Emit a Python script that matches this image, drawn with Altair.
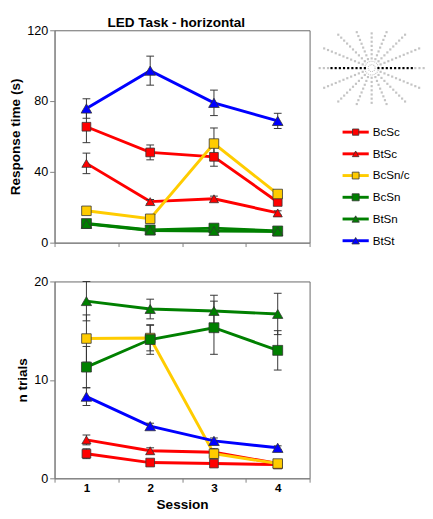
import math
import altair as alt
import numpy as np
import pandas as pd

# ---------------- data ----------------
sessions = ["1", "2", "3", "4"]
series = ["BcSc", "BtSc", "BcSn/c", "BcSn", "BtSn", "BtSt"]
colors = ["#FF0000", "#FF0000", "#FFCC00", "#008000", "#008000", "#0000FF"]
shapes = ["square", "triangle-up", "square", "square", "triangle-up", "triangle-up"]

# Response time (s): mean and error per session
rt_BcSc = [65.5, 51.0, 48.5, 23.0]
rt_BtSc = [44.8, 23.2, 24.8, 16.8]
rt_BcSnc = [18.0, 13.5, 56.0, 27.5]
rt_BcSn = [10.8, 7.2, 8.2, 6.6]
rt_BtSn = [10.6, 6.9, 6.6, 6.3]
rt_BtSt = [75.8, 97.2, 79.0, 68.8]
rt_err_BcSc = [9.0, 4.2, 5.3, 2.0]
rt_err_BtSc = [5.8, 1.2, 1.5, 1.2]
rt_err_BcSnc = [2.0, 1.5, 8.8, 2.0]
rt_err_BcSn = [1.5, 1.0, 1.5, 1.0]
rt_err_BtSn = [1.5, 1.0, 1.0, 1.0]
rt_err_BtSt = [5.5, 8.2, 7.2, 4.3]

# n trials: mean and error per session
nt_BcSc = [2.5, 1.6, 1.5, 1.4]
nt_BtSc = [3.9, 2.8, 2.65, 1.5]
nt_BcSnc = [14.2, 14.25, 2.5, 1.5]
nt_BcSn = [11.3, 14.1, 15.3, 13.0]
nt_BtSn = [18.0, 17.2, 17.0, 16.7]
nt_BtSt = [8.3, 5.3, 3.8, 3.1]
nt_err_BcSc = [0.5, 0.3, 0.3, 0.2]
nt_err_BtSc = [0.5, 0.3, 0.3, 0.2]
nt_err_BcSnc = [2.4, 1.3, 0.5, 0.3]
nt_err_BcSn = [2.1, 1.5, 2.7, 2.0]
nt_err_BtSn = [2.0, 1.0, 1.6, 2.1]
nt_err_BtSt = [0.9, 0.3, 0.3, 0.2]

rt_means = [rt_BcSc, rt_BtSc, rt_BcSnc, rt_BcSn, rt_BtSn, rt_BtSt]
rt_errs = [rt_err_BcSc, rt_err_BtSc, rt_err_BcSnc, rt_err_BcSn, rt_err_BtSn, rt_err_BtSt]
nt_means = [nt_BcSc, nt_BtSc, nt_BcSnc, nt_BcSn, nt_BtSn, nt_BtSt]
nt_errs = [nt_err_BcSc, nt_err_BtSc, nt_err_BcSnc, nt_err_BcSn, nt_err_BtSn, nt_err_BtSt]

# decorative LED layout icon: ray directions and their lengths (px)
ray_angles = [i * 22.5 for i in range(16)]
ray_fold = [0.0, 22.5, 45.0, 67.5, 90.0]
ray_length = [55, 54, 52, 40, 36]


def long_df(means, errs):
    rows = []
    for s, m, e in zip(series, means, errs):
        for sess, v, ev in zip(sessions, m, e):
            rows.append({"series": s, "session": sess, "mean": v,
                         "lo": v - ev, "hi": v + ev})
    return pd.DataFrame(rows)


rt_df = long_df(rt_means, rt_errs)
nt_df = long_df(nt_means, nt_errs)

FONT = "Liberation Sans"
ERR_COLOR = "#333333"

color_scale = alt.Scale(domain=series, range=colors)
shape_scale = alt.Scale(domain=series, range=shapes)
size_scale = alt.Scale(domain=series, range=[81, 120, 81, 81, 120, 120])


def panel(df, ymax, yticks, ytitle, w, h, widths, bottom):
    xaxis = alt.Axis(tickBand="extent", labels=bottom, title="Session" if bottom else None,
                     labelAngle=0, labelFontSize=12, labelFontWeight="bold",
                     titleFontSize=14, titleFontWeight="bold", titlePadding=4,
                     labelPadding=1, domainColor="#808080", tickColor="#808080", tickSize=4)
    x = alt.X("session:N", sort=sessions, bandPosition=0.5,
              scale=alt.Scale(type="band", paddingInner=0, paddingOuter=0), axis=xaxis)
    yscale = alt.Scale(domain=[0, ymax], nice=False, zero=True)
    yaxis = alt.Axis(values=yticks, title=ytitle, grid=False, labelFontSize=13,
                     titleFontSize=14, titleFontWeight="bold", titlePadding=4,
                     labelPadding=2, domainColor="#808080", tickColor="#808080", tickSize=5)
    y = alt.Y("mean:Q", scale=yscale, axis=yaxis)
    base = alt.Chart(df)
    lines = base.mark_line().encode(
        x=x, y=y,
        color=alt.Color("series:N", scale=color_scale, legend=None),
        strokeWidth=alt.StrokeWidth("series:N", scale=alt.Scale(domain=series, range=widths), legend=None),
        detail="series:N",
    )
    err = base.mark_rule(color=ERR_COLOR, strokeWidth=1).encode(
        x=x, y=alt.Y("lo:Q", scale=yscale, axis=yaxis), y2="hi:Q")
    cap_lo = base.mark_tick(color=ERR_COLOR, size=8, thickness=1, opacity=1).encode(
        x=x, y=alt.Y("lo:Q", scale=yscale, axis=yaxis))
    cap_hi = base.mark_tick(color=ERR_COLOR, size=8, thickness=1, opacity=1).encode(
        x=x, y=alt.Y("hi:Q", scale=yscale, axis=yaxis))
    pts = base.mark_point(filled=True, opacity=1, stroke=ERR_COLOR, strokeWidth=0.8).encode(
        x=x, y=y,
        color=alt.Color("series:N", scale=color_scale, legend=None),
        shape=alt.Shape("series:N", scale=shape_scale, legend=None),
        size=alt.Size("series:N", scale=size_scale, legend=None),
    )
    return alt.layer(lines, err, cap_lo, cap_hi, pts).properties(width=w, height=h)


top = panel(rt_df, 120, [0, 40, 80, 120], "Response time (s)", 263, 219,
            [3, 3, 2.5, 3, 3, 3], False).properties(
    title=alt.TitleParams("LED Task - horizontal", fontSize=14, fontWeight="bold",
                          font=FONT, anchor="middle", frame="group", dx=-6, offset=-6))
bottom = panel(nt_df, 20, [0, 10, 20], "n trials", 263, 203,
               [3, 3, 2.5, 3, 3, 1.5], True)

# ---------------- side: icon + legend ----------------
SIDE_W, SIDE_H = 110, 219
sun_cx, sun_cy = 60, 39


def length_for(a):
    f = a % 180
    f = min(f, 180 - f)
    return ray_length[ray_fold.index(f)]


dots = []
for a in ray_angles:
    L = length_for(a)
    horizontal = (a % 180 == 0)
    start = 45.0 if horizontal else 10.0
    for r in np.arange(start, L + 0.5, 4.3):
        dots.append({"dx": r * math.cos(math.radians(a)), "dy": -r * math.sin(math.radians(a)), "k": "g"})
    if horizontal:
        for r in np.arange(7.0, 43.0, 4.3):
            dots.append({"dx": r * math.cos(math.radians(a)), "dy": 0.0, "k": "b"})
dots_df = pd.DataFrame(dots)
rings_df = pd.DataFrame({"dx": [0.0, 0.0], "dy": [0.0, 0.0], "s": [50, 200]})

sx = alt.X("dx:Q", scale=alt.Scale(domain=[-sun_cx, SIDE_W - sun_cx], range=[0, SIDE_W]), axis=None)
sy = alt.Y("dy:Q", scale=alt.Scale(domain=[-sun_cy, SIDE_H - sun_cy], range=[0, SIDE_H]), axis=None)

gray_dots = alt.Chart(dots_df).transform_filter("datum.k == 'g'").mark_square(
    color="#c4c4c4", size=5, opacity=1).encode(x=sx, y=sy)
black_dots = alt.Chart(dots_df).transform_filter("datum.k == 'b'").mark_square(
    color="#000000", size=5, opacity=1).encode(x=sx, y=sy)
rings = alt.Chart(rings_df).mark_point(shape="circle", filled=False, color="#c4c4c4",
                                       strokeWidth=1.2, strokeDash=[1, 1], opacity=1).encode(
    x=sx, y=sy, size=alt.Size("s:Q", scale=None, legend=None))
sun = alt.layer(gray_dots, rings, black_dots)

leg_df = pd.DataFrame({"series": series})
ly = alt.Y("series:N", sort=series, axis=None,
           scale=alt.Scale(type="point", range=[105, 217], padding=0))
leg_line = alt.Chart(leg_df).mark_rule(strokeWidth=3).encode(
    y=ly, x=alt.value(30), x2=alt.value(57),
    color=alt.Color("series:N", scale=color_scale, legend=None))
leg_pt = alt.Chart(leg_df).mark_point(filled=True, opacity=1, stroke=ERR_COLOR, strokeWidth=0.8).encode(
    y=ly, x=alt.value(43.5),
    color=alt.Color("series:N", scale=color_scale, legend=None),
    shape=alt.Shape("series:N", scale=shape_scale, legend=None),
    size=alt.Size("series:N", scale=alt.Scale(domain=series, range=[42, 60, 42, 42, 60, 60]), legend=None))
leg_txt = alt.Chart(leg_df).mark_text(align="left", baseline="middle", fontSize=12,
                                      font=FONT, color="black").encode(
    y=ly, x=alt.value(61), text="series:N")
legend = alt.layer(leg_line, leg_pt, leg_txt)

side = alt.layer(sun, legend).resolve_scale(
    x="independent", y="independent", size="independent").properties(
    width=SIDE_W, height=SIDE_H, view=alt.ViewConfig(stroke=None))

top_row = alt.hconcat(top, side, spacing=3).resolve_scale(size="independent", strokeWidth="independent")
chart = alt.vconcat(top_row, bottom, spacing=25).resolve_scale(
    size="independent", strokeWidth="independent").properties(padding=0, background="white")

chart = chart.configure(font=FONT).configure_view(stroke="#666666", strokeWidth=1).configure_axis(
    labelFont=FONT, titleFont=FONT, labelColor="black", titleColor="black")

chart.save("out.html", embed_options={"renderer": "svg", "actions": False})
